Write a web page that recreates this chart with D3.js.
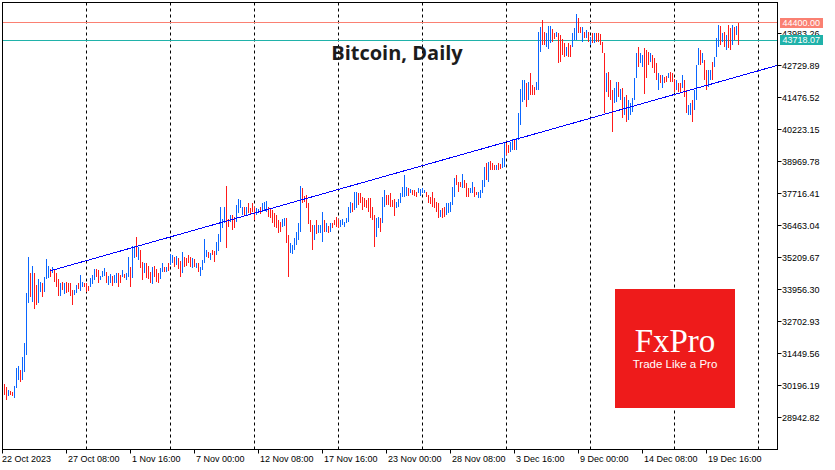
<!DOCTYPE html>
<html>
<head>
<meta charset="utf-8">
<script src="https://cdn.jsdelivr.net/npm/d3@7"></script>
<style>
  body { margin: 0; background: #fff; }
  svg text { font-family: "Liberation Sans", Arial, sans-serif; }
</style>
</head>
<body>
<div id="chart"></div>
<script>
// BTC 4h bars from 22 Oct 2023 (high / low / direction)
const highs = [
  30250, 30130, 30010, 29970, 29940, 30170, 30880, 30960, 30800, 31310,
  31860, 33820, 35230, 34600, 34880, 34600, 34130, 34370, 34250, 34210,
  34450, 35150, 34880, 34760, 34840, 34720, 34600, 34370, 34210, 34250,
  34210, 34250, 34210, 34210, 33940, 33940, 34130, 34210, 34520, 34250,
  34210, 34210, 34090, 34410, 34520, 34760, 34760, 34720, 34480, 34680,
  34800, 34640, 34480, 34560, 34480, 34520, 34600, 34600, 34520, 34720,
  34560, 34600, 35230, 34840, 35660, 35660, 36010, 35620, 35500, 35030,
  34990, 34990, 34880, 34640, 34840, 34880, 34760, 34600, 34800, 34990,
  34840, 34840, 34990, 35350, 35310, 35230, 35270, 35190, 35070, 35430,
  35230, 35190, 35310, 35230, 35190, 35150, 34990, 34990, 34840, 35110,
  35940, 35500, 35440, 35370, 35500, 35480, 35830, 36130, 37190, 36710,
  37190, 38010, 36710, 36880, 36880, 36810, 37270, 37490, 37460, 37200,
  37200, 37200, 37330, 37140, 37330, 37200, 37140, 37100, 37200, 37330,
  37400, 37440, 37200, 37140, 37070, 36940, 36880, 36680, 36610, 36710,
  36750, 36750, 36090, 35770, 35700, 35990, 36220, 36550, 38010, 37920,
  37620, 37660, 37330, 36680, 36480, 36480, 36680, 36480, 36480, 37000,
  36680, 36550, 36440, 36550, 36550, 36680, 36810, 36710, 36680, 36710,
  36610, 36750, 37200, 37400, 37330, 37760, 37760, 37720, 37720, 37590,
  37530, 37460, 37530, 37530, 37200, 36880, 36750, 36810, 36750, 37590,
  37860, 37660, 37660, 37720, 37460, 37490, 37400, 37490, 37720, 37990,
  38440, 37990, 37920, 37880, 37860, 37860, 37790, 37920, 37880, 37920,
  37860, 37790, 37660, 37590, 37790, 37530, 37400, 37330, 37070, 37140,
  37200, 37360, 37330, 37400, 37990, 38310, 38440, 38180, 38180, 38480,
  38250, 38120, 37920, 37920, 38180, 37990, 37790, 37790, 37860, 38250,
  38760, 38910, 38950, 38990, 38910, 38830, 38830, 38910, 38870, 39110,
  39740, 39700, 39620, 39740, 39860, 39860, 39900, 40880, 41820, 42170,
  42170, 42050, 42090, 42440, 41970, 41890, 42090, 44050, 44250, 44520,
  44050, 44010, 44290, 44290, 44170, 44010, 44050, 44010, 43930, 43780,
  43620, 43460, 43620, 43540, 44010, 44210, 44760, 44600, 44250, 44250,
  44050, 44130, 44050, 43860, 44010, 44010, 44010, 44010, 43970, 43660,
  43230, 42440, 42480, 42170, 41780, 41860, 42090, 42090, 41820, 41860,
  41500, 41580, 41390, 41270, 41460, 42250, 43230, 43460, 43230, 43150,
  43420, 43350, 43270, 43230, 43150, 43030, 42840, 42440, 42360, 42360,
  42290, 42330, 42440, 42480, 42440, 42210, 42170, 42050, 42050, 42360,
  42170, 41780, 41190, 41270, 41390, 41780, 42760, 43420, 43350, 43230,
  42950, 42560, 42560, 42560, 42880, 43070, 43820, 44330, 44290, 44010,
  44050, 43930, 44330, 44210, 44330, 44250, 44290, 44400
];
const lows = [
  29820, 29620, 29780, 29820, 29780, 29700, 30090, 30410, 30330, 30410,
  30720, 31390, 33430, 33660, 33470, 33190, 33350, 33430, 33860, 33660,
  33860, 34370, 34410, 34450, 34600, 34250, 34050, 33700, 33700, 33940,
  33780, 33820, 33860, 33700, 33350, 33740, 33820, 33980, 33900, 34050,
  34050, 33860, 33900, 34050, 34170, 34330, 34450, 34210, 34330, 34450,
  34480, 34210, 34130, 34210, 34090, 34210, 34210, 34050, 34210, 34450,
  34410, 34330, 34450, 34050, 34410, 35190, 35230, 35110, 34800, 34330,
  34600, 34410, 34370, 34210, 34170, 34450, 34250, 34210, 34370, 34640,
  34640, 34640, 34680, 34920, 34990, 34840, 34920, 34760, 34450, 34600,
  34840, 34880, 34990, 34840, 34800, 34840, 34800, 34640, 34480, 34720,
  34990, 35240, 35180, 35110, 35310, 35050, 35310, 35480, 35830, 36350,
  36550, 35600, 36420, 36610, 36290, 36350, 36610, 36940, 37140, 36880,
  36880, 36880, 36940, 36880, 37000, 36680, 36880, 36940, 36920, 37000,
  37070, 37000, 36810, 36750, 36550, 36420, 36350, 36180, 36220, 36420,
  36450, 35770, 34460, 35370, 35330, 35500, 35700, 35900, 36220, 37330,
  37400, 37140, 36520, 36220, 35500, 35900, 36130, 36160, 36160, 35830,
  36220, 36220, 36160, 36220, 36350, 36480, 36420, 36350, 36420, 36480,
  36420, 36550, 36610, 36940, 37000, 37070, 37140, 37270, 37330, 37070,
  37200, 37140, 37000, 36750, 36680, 35610, 36030, 36350, 36220, 36550,
  37200, 37270, 37270, 37200, 37200, 36840, 37140, 37200, 37330, 37590,
  37590, 37620, 37620, 37730, 37660, 37620, 37590, 37730, 37620, 37730,
  37730, 37590, 37330, 37310, 37200, 37140, 37000, 36750, 36810, 36750,
  36810, 36880, 36940, 37000, 37270, 37590, 38050, 37790, 37990, 37920,
  37920, 37590, 37590, 37730, 37730, 37590, 37660, 37530, 37540, 37740,
  37970, 38250, 38170, 38640, 38640, 38640, 38640, 38640, 38680, 38720,
  38760, 39230, 39310, 39350, 39420, 39420, 39420, 39820, 40410, 41310,
  41390, 41110, 41390, 41580, 41580, 41580, 41780, 41780, 43270, 43540,
  43540, 43460, 43380, 43620, 43660, 43780, 43850, 42840, 42880, 43150,
  43070, 43110, 43070, 43070, 43460, 43740, 43740, 44010, 44010, 43660,
  43820, 43820, 43660, 43540, 43620, 43620, 43660, 43660, 43540, 43230,
  40880, 41700, 41500, 41390, 40130, 41270, 41310, 41500, 41390, 40680,
  40800, 40520, 40600, 40800, 40910, 41390, 42250, 42680, 42840, 42680,
  41620, 42250, 42760, 42880, 42640, 42440, 42170, 41780, 42050, 41860,
  42050, 42090, 42250, 42090, 42090, 41700, 41780, 41700, 41660, 41860,
  41500, 40880, 40800, 40800, 40520, 40990, 41390, 42760, 42760, 42840,
  42170, 41780, 41890, 42170, 42170, 42680, 43070, 43460, 43540, 43660,
  43460, 43350, 43420, 43350, 43540, 43740, 43930, 43540
];
// u = close above open (blue), d = close below open (red)
const barDir = (
  "ddudduuudu" + "uuududduud" + "uuududddud" + "udddduuduu" + "ddduuudduu" +
  "uduuduuddu" + "duuduududd" + "uddduddduu" + "duduududdu" + "ddddududuu" +
  "uududduuuu" + "uddudduuuu" + "dudddduudu" + "uudddddddu" + "udduuuuuud" +
  "ddddduduuu" + "dududddduu" + "uuuuduuddd" + "dddddduudu" + "uddddduuuu" +
  "uududdduuu" + "udddddddud" + "duuuuudddu" + "ddduudduuu" + "ududdduddu" +
  "udduuduuuu" + "ududdduuud" + "duuudduddd" + "dudduuuddu" + "dudududddd" +
  "duddduudud" + "uduuuuuduu" + "dddudddudu" + "dduddduddu" + "dduuduuudu" +
  "dduuduuudu" + "duddudud"
).split("");

const yTicks = [28942.82, 30196.19, 31449.56, 32702.93, 33956.30, 35209.67,
  36463.04, 37716.41, 38969.78, 40223.15, 41476.52, 42729.89, 43983.26];
const xTickBars = [0, 32, 64, 96, 128, 160, 192, 224, 256, 288, 320, 352];
const xTickLabels = ["22 Oct 2023", "27 Oct 08:00", "1 Nov 16:00", "7 Nov 00:00",
  "12 Nov 08:00", "17 Nov 16:00", "23 Nov 00:00", "28 Nov 08:00", "3 Dec 16:00",
  "9 Dec 00:00", "14 Dec 08:00", "19 Dec 16:00"];
const gridBars = [41, 83, 125, 167, 209, 251, 293, 335, 377];
const trendFrom = [23, 34690];
const trendTo = [386.25, 42730];
const levelHigh = 44400.00;
const levelLast = 43718.07;

var width = 835, height = 470;
var pL = 2.5, pR = 777.5, pT = 2.5, pB = 449.5;

var svg = d3.select("#chart").append("svg")
  .attr("width", width).attr("height", height)
  .style("display", "block");

svg.append("defs").append("clipPath").attr("id", "plot")
  .append("rect").attr("x", pL).attr("y", pT)
  .attr("width", pR - pL).attr("height", pB - pT);

var x = d3.scaleLinear().domain([0, 1]).range([4.5, 6.5]);
var y = d3.scaleLinear().domain([28942.82, 42729.89]).range([417.5, 65.5]);

var plot = svg.append("g").attr("clip-path", "url(#plot)");

// weekly dashed grid
plot.selectAll(".grid").data(gridBars).enter().append("line")
  .attr("x1", d => Math.floor(x(d)) + 0.5).attr("x2", d => Math.floor(x(d)) + 0.5)
  .attr("y1", pT).attr("y2", pB)
  .attr("stroke", "#000").attr("stroke-dasharray", "3,3");

// price levels
function level(v, col) {
  var yy = Math.floor(y(v)) + 0.5;
  plot.append("line").attr("x1", pL).attr("x2", pR)
    .attr("y1", yy).attr("y2", yy).attr("stroke", col);
}
level(levelHigh, "#fa8072");
level(levelLast, "#20b2aa");

// bars
var bars = highs.map((h, i) => ({ i: i, h: h, l: lows[i], up: barDir[i] === "u" }));
plot.selectAll(".bar").data(bars).enter().append("rect")
  .attr("x", d => Math.floor(x(d.i)))
  .attr("y", d => Math.round(y(d.h)))
  .attr("width", 1)
  .attr("height", d => Math.max(1, Math.round(y(d.l)) - Math.round(y(d.h))))
  .attr("fill", d => d.up ? "#0a66ff" : "#ff1a1a")
  .attr("shape-rendering", "crispEdges");

// trend line
plot.append("line")
  .attr("x1", x(trendFrom[0])).attr("y1", y(trendFrom[1]))
  .attr("x2", x(trendTo[0])).attr("y2", y(trendTo[1]))
  .attr("stroke", "#0000ff").attr("stroke-width", 1)
  .attr("shape-rendering", "crispEdges");

// title
svg.append("text").attr("x", 397).attr("y", 59.5)
  .attr("text-anchor", "middle")
  .style("font-family", "'Open Sans', sans-serif")
  .style("font-weight", "bold").style("font-size", "20px")
  .attr("fill", "#1c1c1c").text("Bitcoin, Daily");

// frame
svg.append("rect").attr("x", pL).attr("y", pT)
  .attr("width", pR - pL).attr("height", pB - pT)
  .attr("fill", "none").attr("stroke", "#000");

// y axis (right)
var ya = svg.append("g");
yTicks.forEach(function (v) {
  var yy = Math.floor(y(v)) + 0.5;
  ya.append("line").attr("x1", pR).attr("x2", pR + 4)
    .attr("y1", yy).attr("y2", yy).attr("stroke", "#000");
  ya.append("text").attr("x", 782).attr("y", yy).attr("dy", "0.35em")
    .style("font-size", "9px").attr("fill", "#000").text(v.toFixed(2));
});

// x axis
var xa = svg.append("g");
xTickBars.forEach(function (b, k) {
  var xx = Math.floor(x(b)) - 1.5;
  xa.append("line").attr("x1", xx).attr("x2", xx)
    .attr("y1", pB).attr("y2", pB + 4).attr("stroke", "#000");
  xa.append("text").attr("x", k === 0 ? 2 : xx + 1.5).attr("y", 461.5)
    .style("font-size", "9px").attr("fill", "#000").text(xTickLabels[k]);
});

// level labels
function tag(v, col) {
  var yy = y(v);
  svg.append("rect").attr("x", 780).attr("y", Math.round(yy) - 5)
    .attr("width", 43).attr("height", 10).attr("fill", col);
  svg.append("text").attr("x", 782.5).attr("y", yy).attr("dy", "0.35em")
    .style("font-size", "9px").attr("fill", "#fff").text(v.toFixed(2));
}
tag(levelHigh, "#fa8072");
tag(levelLast, "#20b2aa");

// FxPro logo
var logo = svg.append("g");
logo.append("rect").attr("x", 615).attr("y", 289)
  .attr("width", 120).attr("height", 119).attr("fill", "#ee1b1b");
logo.append("text").attr("x", 675).attr("y", 352).attr("text-anchor", "middle")
  .style("font-family", "'Liberation Serif', 'Times New Roman', serif")
  .style("font-size", "33px").attr("fill", "#fff").text("FxPro");
logo.append("text").attr("x", 675).attr("y", 367.5).attr("text-anchor", "middle")
  .style("font-size", "11.5px").attr("fill", "#fff").text("Trade Like a Pro");
</script>
</body>
</html>
